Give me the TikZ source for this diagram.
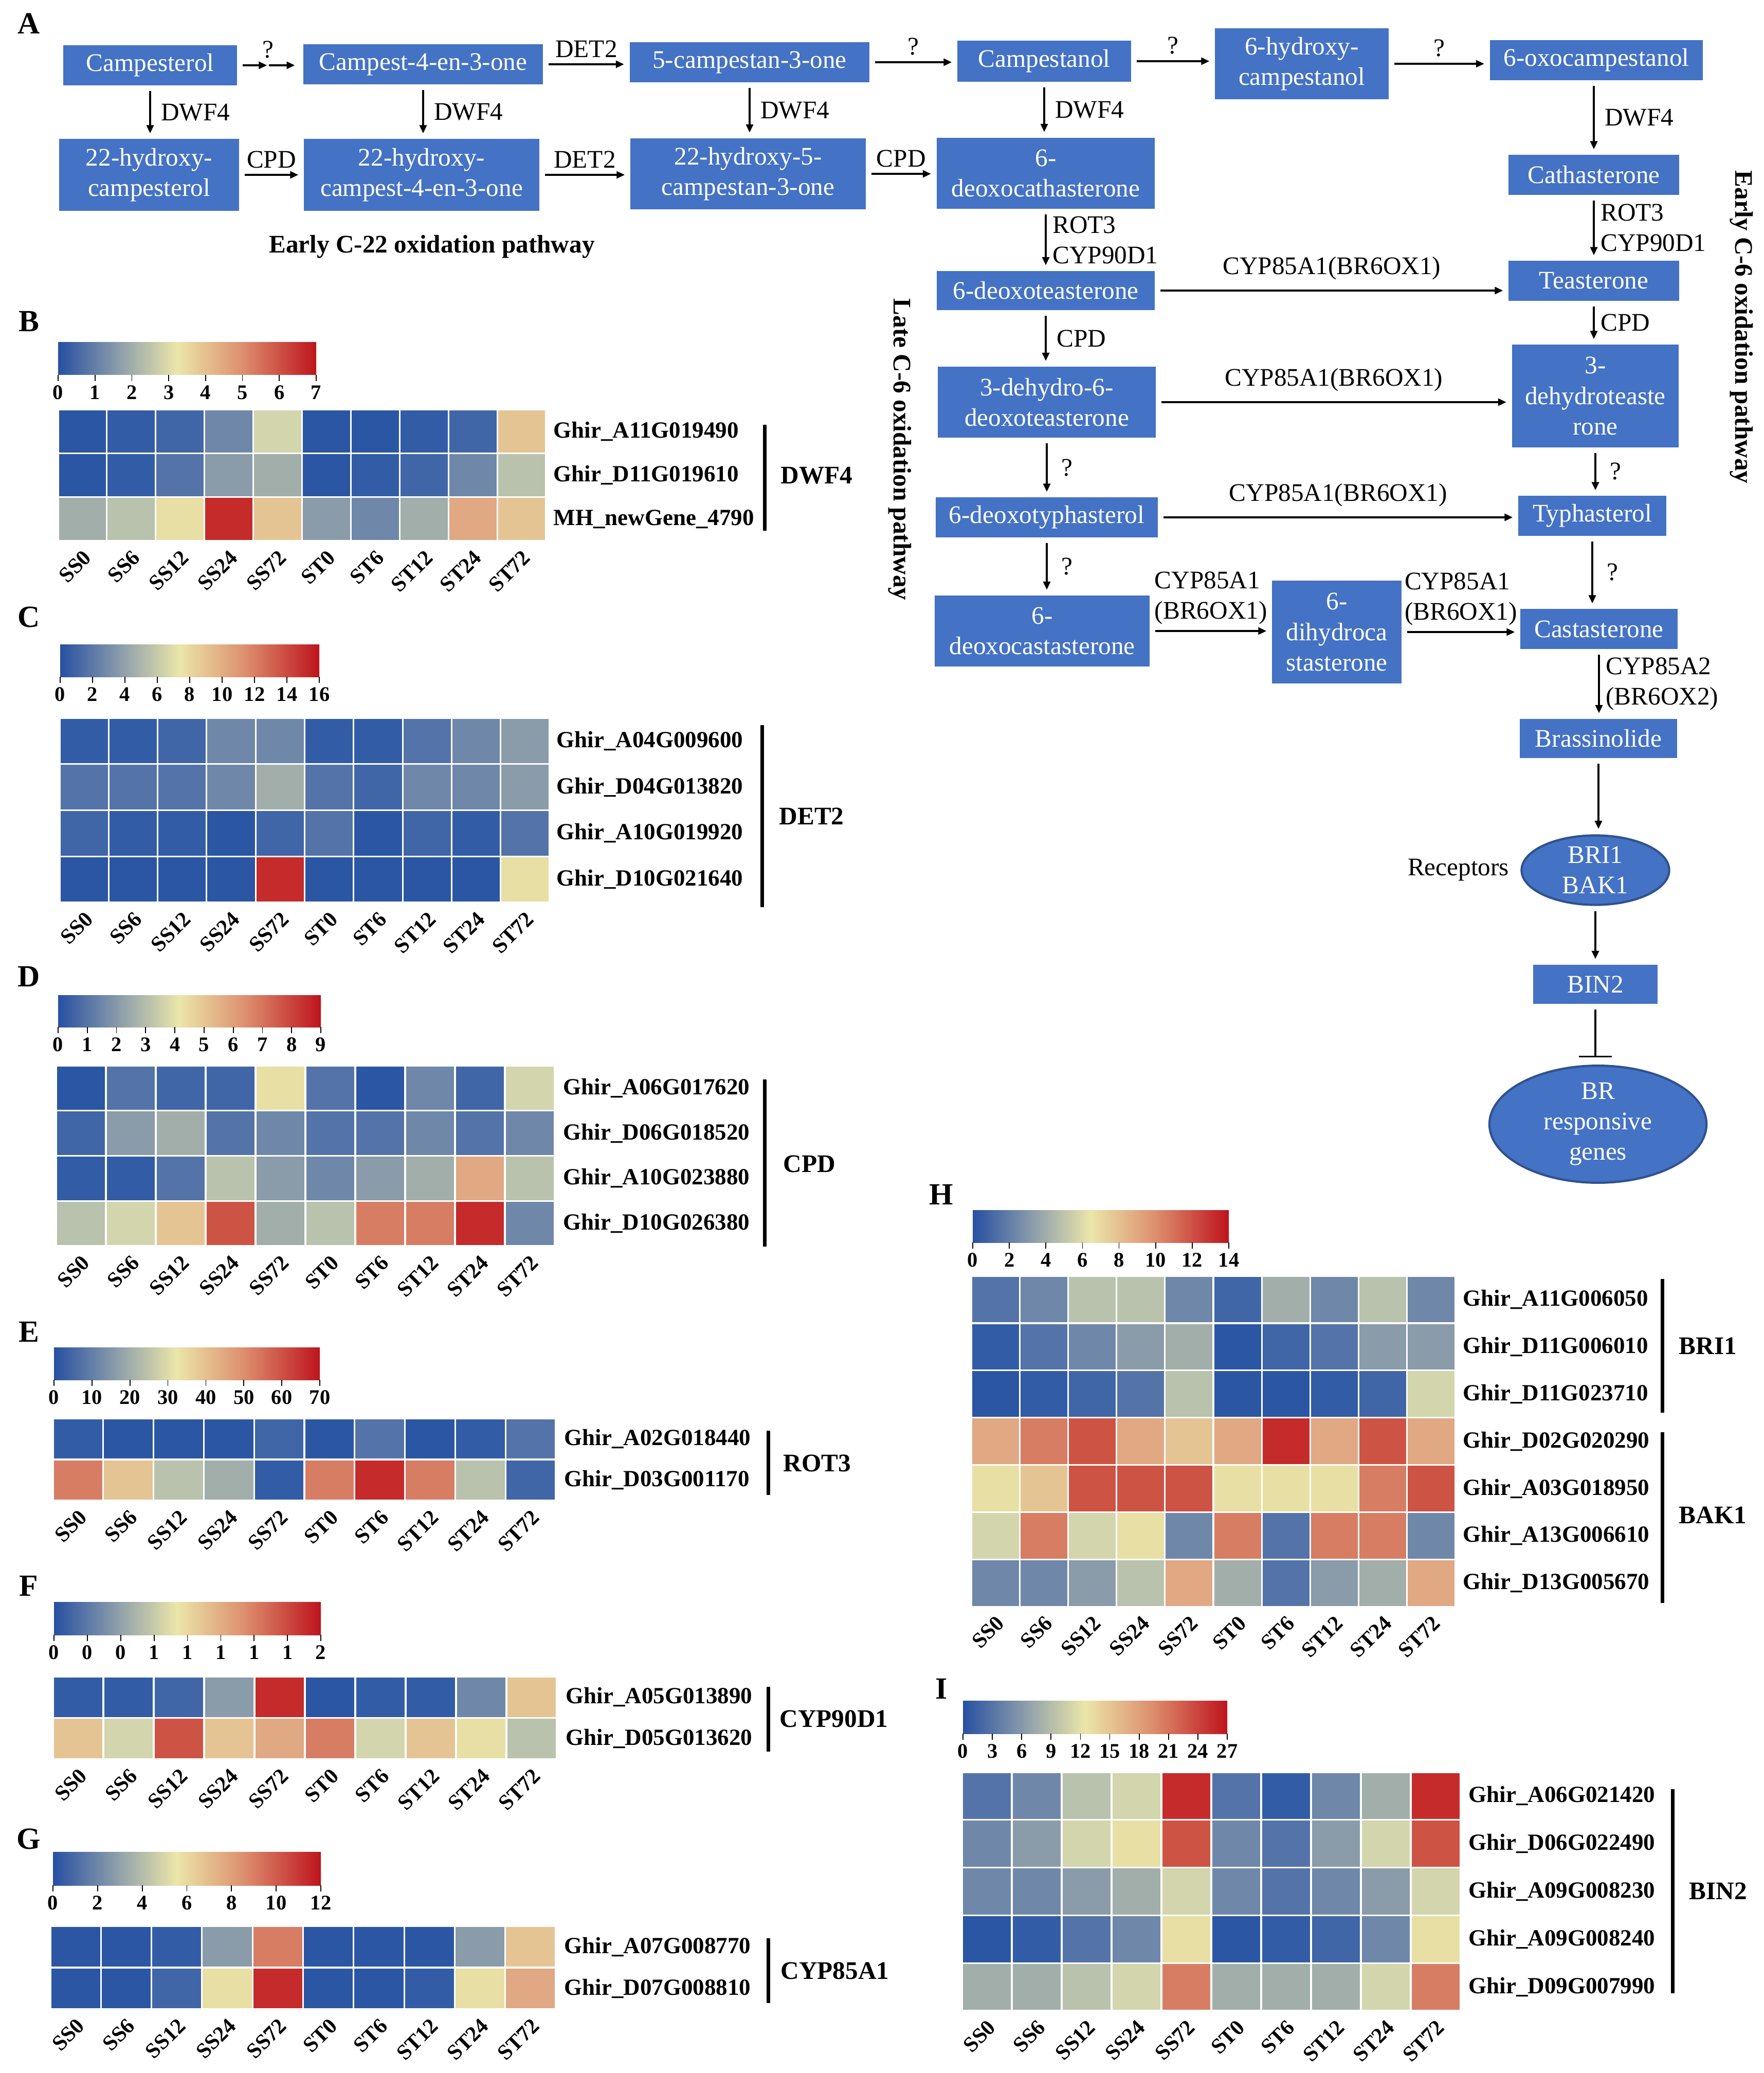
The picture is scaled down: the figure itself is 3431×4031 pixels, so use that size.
\documentclass[tikz,border=0pt]{standalone}
\usepackage{fontspec}
\setmainfont{Liberation Serif}
\usetikzlibrary{positioning, arrows.meta, shapes.geometric}

\definecolor{boxblue}{RGB}{68,114,196}
\definecolor{ovalline}{RGB}{47,82,143}
% heat map levels, low to high
\definecolor{hm0}{HTML}{2B56A3}
\definecolor{hm1}{HTML}{325DA6}
\definecolor{hm2}{HTML}{4166A7}
\definecolor{hm3}{HTML}{5473A8}
\definecolor{hm4}{HTML}{6F87A9}
\definecolor{hm5}{HTML}{8A9BAA}
\definecolor{hm6}{HTML}{A2AEAA}
\definecolor{hm7}{HTML}{B9C2AC}
\definecolor{hm8}{HTML}{D3D5AD}
\definecolor{hm9}{HTML}{E8DFA4}
\definecolor{hm10}{HTML}{E5C494}
\definecolor{hm11}{HTML}{E0A883}
\definecolor{hm12}{HTML}{D77D63}
\definecolor{hm13}{HTML}{CD5444}
\definecolor{hm14}{HTML}{C52B2B}
% colour key stops
\definecolor{cb0}{HTML}{2750A2}
\definecolor{cb1}{HTML}{8A9CAA}
\definecolor{cb2}{HTML}{EBE6A9}
\definecolor{cb3}{HTML}{DC8C6C}
\definecolor{cb4}{HTML}{BE141D}

\newcommand{\pwfont}{\fontsize{14}{16.8}\selectfont}
\newcommand{\pathfont}{\fontsize{14}{16.8}\selectfont\bfseries}
\newcommand{\genefont}{\fontsize{12.8}{15}\selectfont\bfseries}
\newcommand{\smpfont}{\fontsize{12}{14}\selectfont\bfseries}
\newcommand{\tickfont}{\fontsize{11.5}{13}\selectfont\bfseries}
\newcommand{\panelfont}{\fontsize{17}{20}\selectfont\bfseries}

% #1,#2 top left, #3 cell width, #4 cell height, #5 rows of levels
\newcommand{\heatgrid}[5]{%
  \foreach \rowcodes [count=\ri from 0] in {#5}{
    \foreach \code [count=\ci from 0] in \rowcodes{
      \path[fill=hm\code, draw=white, line width=0.9pt]
        ({#1+\ci*#3},{#2+\ri*#4}) rectangle ++(#3,#4);
    }
  }%
}
% #1 x, #2 top y, #3 row height, #4 prefix, #5 gene names
\newcommand{\genenames}[5]{%
  \foreach \gname [count=\gi from 0] in {#5}{
    \node[gene] (#4g\gi) at (#1,{#2+(\gi+0.5)*#3}) {\gname};
  }%
}
% #1 left x, #2 bottom y, #3 cell width, #4 prefix
\newcommand{\samplenames}[4]{%
  \foreach \sname [count=\sidx from 0] in {SS0,SS6,SS12,SS24,SS72,ST0,ST6,ST12,ST24,ST72}{
    \node[smp] (#4s\sidx) at ({#1+(\sidx+0.5)*#3+10},{#2+25}) {\sname};
  }%
}
% #1,#2 top left, #3 width, #4 height, #5 intervals, #6 tick labels, #7 prefix
\newcommand{\colorkey}[7]{%
  \shade[left color=cb0, right color=cb1] (#1,#2) rectangle ({#1+0.23*#3+1},{#2+#4});
  \shade[left color=cb1, right color=cb2] ({#1+0.23*#3},#2) rectangle ({#1+0.46*#3+1},{#2+#4});
  \shade[left color=cb2, right color=cb3] ({#1+0.46*#3},#2) rectangle ({#1+0.72*#3+1},{#2+#4});
  \shade[left color=cb3, right color=cb4] ({#1+0.72*#3},#2) rectangle ({#1+#3},{#2+#4});
  \foreach \ticklab [count=\ti from 0] in {#6}{
    \draw[line width=0.5pt] ({#1+\ti*#3/#5},{#2+#4}) -- ++(0,12);
    \node[tick] (#7t\ti) at ({#1+\ti*#3/#5},{#2+#4+34}) {\ticklab};
  }%
}

\begin{document}
\begin{tikzpicture}[x=0.01cm, y=-0.01cm,
  box/.style 2 args={rectangle, fill=boxblue, text=white, align=center, inner sep=0pt,
    font=\pwfont, minimum width=#1cm, minimum height=#2cm},
  oval/.style 2 args={ellipse, fill=boxblue, draw=ovalline, line width=1.2pt, text=white,
    align=center, inner sep=0pt, font=\pwfont, minimum width=#1cm, minimum height=#2cm},
  arr/.style={-{Triangle[length=4.5pt,width=4pt]}, line width=0.9pt, shorten <=3pt, shorten >=3pt},
  lab/.style={font=\pwfont, align=left},
  pathlab/.style={font=\pathfont},
  panel/.style={font=\panelfont},
  gene/.style={anchor=west, inner sep=0pt, font=\genefont},
  smp/.style={anchor=east, rotate=45, inner sep=0pt, font=\smpfont},
  tick/.style={inner sep=0pt, font=\tickfont},
  group/.style={anchor=west, inner sep=0pt, font=\pathfont},
  bracket/.style={line width=2pt}]
\useasboundingbox (0,0) rectangle (3431,4031);

% ---------- A: pathway ----------
\node[panel] (pA) at (56,46) {A};
\node[box={3.37}{0.78}] (campesterol) at (292,127) {Campesterol};
\node[box={4.66}{0.78}] (campestfour) at (823,125) {Campest-4-en-3-one};
\node[box={4.66}{0.77}] (campestanone) at (1458,121) {5-campestan-3-one};
\node[box={3.37}{0.79}] (campestanol) at (2031,119) {Campestanol};
\node[box={3.37}{1.38}] (hydroxycampestanol) at (2532,124) {6-hydroxy-\\campestanol};
\node[box={4.14}{0.77}] (oxocampestanol) at (3105,117) {6-oxocampestanol};
\node[box={3.49}{1.39}] (hydroxycampesterol) at (290,340) {22-hydroxy-\\campesterol};
\node[box={4.57}{1.39}] (hydroxycampestfour) at (820,340) {22-hydroxy-\\campest-4-en-3-one};
\node[box={4.57}{1.38}] (hydroxycampestanone) at (1455,338) {22-hydroxy-5-\\campestan-3-one};
\node[box={4.24}{1.38}] (deoxocathasterone) at (2034,337) {6-\\deoxocathasterone};
\node[box={3.31}{0.77}] (cathasterone) at (3100,340) {Cathasterone};
\node[box={4.24}{0.76}] (deoxoteasterone) at (2034,565) {6-deoxoteasterone};
\node[box={3.31}{0.77}] (teasterone) at (3100,546) {Teasterone};
\node[box={4.23}{1.38}] (dehydrodeoxo) at (2036,782) {3-dehydro-6-\\deoxoteasterone};
\node[box={3.24}{1.99}] (dehydroteasterone) at (3103,770) {3-\\dehydroteaste\\rone};
\node[box={4.32}{0.77}] (deoxotyphasterol) at (2036,1006) {6-deoxotyphasterol};
\node[box={2.87}{0.77}] (typhasterol) at (3097,1003) {Typhasterol};
\node[box={4.18}{1.38}] (deoxocastasterone) at (2027,1227) {6-\\deoxocastasterone};
\node[box={2.51}{2.00}] (dihydrocastasterone) at (2600,1229) {6-\\dihydroca\\stasterone};
\node[box={3.05}{0.77}] (castasterone) at (3110,1223) {Castasterone};
\node[box={3.06}{0.76}] (brassinolide) at (3109,1436) {Brassinolide};
\node[oval={2.87}{1.35}] (receptors) at (3103,1692) {BRI1\\BAK1};
\node[lab, left=0.1cm of receptors] (receptorlabel) {Receptors};
\node[box={2.42}{0.76}] (bintwo) at (3103,1914) {BIN2};
\node[oval={4.22}{2.23}] (brgenes) at (3108,2186) {BR\\responsive\\genes};

\node[pathlab] (c22path) at (840,480) {Early C-22 oxidation pathway};
\node[pathlab, rotate=-90] (latepath) at (1750,874) {Late C-6 oxidation pathway};
\node[pathlab, rotate=-90] (earlypath) at (3387,636) {Early C-6 oxidation pathway};

% top row
\coordinate (qmid) at (521,127);
\draw[arr, shorten >=0.5pt] (campesterol.east) -- node[lab, pos=1, above] {?} (qmid);
\draw[arr, shorten <=0.5pt, shorten >=4.5pt] (qmid) -- (qmid -| campestfour.west);
\draw[arr] (campestfour.east) -- node[lab, above] {DET2} (campestfour.east -| campestanone.west);
\draw[arr] (campestanone.east) -- node[lab, above] {?} (campestanone.east -| campestanol.west);
\draw[arr] (campestanol.east) -- node[lab, above] {?} (campestanol.east -| hydroxycampestanol.west);
\draw[arr] (hydroxycampestanol.east) -- node[lab, above] {?} (hydroxycampestanol.east -| oxocampestanol.west);
% DWF4 steps
\draw[arr] (campesterol.south) -- node[lab, right, xshift=0.08cm] {DWF4} (campesterol.south |- hydroxycampesterol.north);
\draw[arr] (campestfour.south) -- node[lab, right, xshift=0.08cm] {DWF4} (campestfour.south |- hydroxycampestfour.north);
\draw[arr] (campestanone.south) -- node[lab, right, xshift=0.08cm] {DWF4} (campestanone.south |- hydroxycampestanone.north);
\draw[arr] (campestanol.south) -- node[lab, right, xshift=0.08cm] {DWF4} (campestanol.south |- deoxocathasterone.north);
\draw[arr] (cathasterone.north |- oxocampestanol.south) -- node[lab, right, xshift=0.08cm] {DWF4} (cathasterone.north);
% second row
\draw[arr] (hydroxycampesterol.east) -- node[lab, above] {CPD} (hydroxycampesterol.east -| hydroxycampestfour.west);
\draw[arr] (hydroxycampestfour.east) -- node[lab, above] {DET2} (hydroxycampestfour.east -| hydroxycampestanone.west);
\draw[arr] (hydroxycampestanone.east) -- node[lab, above] {CPD} (hydroxycampestanone.east -| deoxocathasterone.west);
% late and early C-6
\draw[arr] (deoxocathasterone.south) -- node[lab, right] {ROT3\\CYP90D1} (deoxocathasterone.south |- deoxoteasterone.north);
\draw[arr] (cathasterone.south) -- node[lab, right] {ROT3\\CYP90D1} (cathasterone.south |- teasterone.north);
\draw[arr] (deoxoteasterone.east) -- node[lab, above, yshift=0.08cm] {CYP85A1(BR6OX1)} (deoxoteasterone.east -| teasterone.west);
\draw[arr] (deoxoteasterone.south) -- node[lab, right, xshift=0.08cm] {CPD} (deoxoteasterone.south |- dehydrodeoxo.north);
\draw[arr] (teasterone.south) -- node[lab, right] {CPD} (teasterone.south |- dehydroteasterone.north);
\draw[arr] (dehydrodeoxo.east) -- node[lab, above, yshift=0.08cm] {CYP85A1(BR6OX1)} (dehydrodeoxo.east -| dehydroteasterone.west);
\draw[arr] (dehydrodeoxo.south) -- node[lab, right, xshift=0.15cm] {?} (dehydrodeoxo.south |- deoxotyphasterol.north);
\draw[arr] (dehydroteasterone.south) -- node[lab, right, xshift=0.15cm] {?} (dehydroteasterone.south |- typhasterol.north);
\draw[arr] (deoxotyphasterol.east) -- node[lab, above, yshift=0.08cm] {CYP85A1(BR6OX1)} (deoxotyphasterol.east -| typhasterol.west);
\draw[arr] (deoxotyphasterol.south) -- node[lab, right, xshift=0.15cm] {?} (deoxotyphasterol.south |- deoxocastasterone.north);
\draw[arr] (typhasterol.south) -- node[lab, right, xshift=0.15cm] {?} (typhasterol.south |- castasterone.north);
\draw[arr] (deoxocastasterone.east) -- node[lab, above] {CYP85A1\\(BR6OX1)} (deoxocastasterone.east -| dihydrocastasterone.west);
\draw[arr] (dihydrocastasterone.east) -- node[lab, above] {CYP85A1\\(BR6OX1)} (dihydrocastasterone.east -| castasterone.west);
\draw[arr] (castasterone.south) -- node[lab, right] {CYP85A2\\(BR6OX2)} (castasterone.south |- brassinolide.north);
% signalling
\draw[arr] (brassinolide.south) -- (brassinolide.south |- receptors.north);
\draw[arr] (receptors.south) -- (receptors.south |- bintwo.north);
\draw[-{Bar[width=18pt]}, line width=0.9pt, shorten <=3pt, shorten >=4pt] (bintwo.south) -- (bintwo.south |- brgenes.north);

% ---------- B: DWF4 ----------
\node[panel] (pB) at (56,625) {B};
\colorkey{113}{666}{502}{63}{7}{0,1,...,7}{B}
\heatgrid{113}{796}{94.9}{85.3}{{0,1,2,4,8,0,0,1,2,10},{0,1,3,5,6,0,1,2,4,7},{6,7,9,14,10,5,4,6,11,10}}
\genenames{1076}{796}{85.3}{B}{Ghir\_A11G019490,Ghir\_D11G019610,MH\_newGene\_4790}
\samplenames{113}{1052}{94.9}{B}
\draw[bracket] (1487,826) -- (1487,1032);
\node[group] (gB) at (1518,925) {DWF4};

% ---------- C: DET2 ----------
\node[panel] (pC) at (56,1200) {C};
\colorkey{117}{1253}{504}{63}{8}{0,2,...,16}{C}
\heatgrid{116}{1396}{95.3}{89.75}{{1,1,2,4,4,1,1,3,4,5},{3,3,3,4,6,3,2,4,4,5},{2,1,1,0,2,3,0,2,1,3},{0,0,0,0,14,0,0,0,0,9}}
\genenames{1082}{1396}{89.75}{C}{Ghir\_A04G009600,Ghir\_D04G013820,Ghir\_A10G019920,Ghir\_D10G021640}
\samplenames{116}{1755}{95.3}{C}
\draw[bracket] (1482,1410) -- (1482,1764);
\node[group] (gC) at (1515,1587) {DET2};

% ---------- D: CPD ----------
\node[panel] (pD) at (56,1899) {D};
\colorkey{113}{1935}{511}{62}{9}{0,1,...,9}{D}
\heatgrid{109}{2072}{97}{87.75}{{0,3,2,2,9,3,0,4,2,8},{2,5,6,3,4,3,3,4,3,4},{1,1,3,7,5,4,5,6,11,7},{7,8,10,13,6,7,12,12,14,4}}
\genenames{1095}{2072}{87.75}{D}{Ghir\_A06G017620,Ghir\_D06G018520,Ghir\_A10G023880,Ghir\_D10G026380}
\samplenames{109}{2423}{97}{D}
\draw[bracket] (1487,2099) -- (1487,2424);
\node[group] (gD) at (1523,2263) {CPD};

% ---------- E: ROT3 ----------
\node[panel] (pE) at (56,2590) {E};
\colorkey{105}{2620}{517}{63}{7}{0,10,...,70}{E}
\heatgrid{103}{2758}{97.8}{80}{{1,0,0,0,2,0,3,0,1,3},{12,10,7,6,1,12,14,12,7,2}}
\genenames{1097}{2758}{80}{E}{Ghir\_A02G018440,Ghir\_D03G001170}
\samplenames{103}{2918}{97.8}{E}
\draw[bracket] (1494,2782) -- (1494,2907);
\node[group] (gE) at (1523,2845) {ROT3};

% ---------- F: CYP90D1 ----------
\node[panel] (pF) at (56,3084) {F};
\colorkey{105}{3115}{519}{64}{8}{0,0,0,1,1,1,1,1,2}{F}
\heatgrid{103}{3260}{98}{80.5}{{1,1,2,5,14,0,1,1,4,10},{10,8,13,10,11,12,8,10,9,7}}
\genenames{1100}{3260}{80.5}{F}{Ghir\_A05G013890,Ghir\_D05G013620}
\samplenames{103}{3421}{98}{F}
\draw[bracket] (1494,3280) -- (1494,3406);
\node[group] (gF) at (1516,3342) {CYP90D1};

% ---------- G: CYP85A1 ----------
\node[panel] (pG) at (56,3576) {G};
\colorkey{103}{3601}{521}{65}{6}{0,2,...,12}{G}
\heatgrid{98}{3745}{98.3}{81}{{0,0,1,5,12,0,0,0,5,10},{0,0,2,9,14,0,0,1,9,11}}
\genenames{1097}{3745}{81}{G}{Ghir\_A07G008770,Ghir\_D07G008810}
\samplenames{98}{3907}{98.3}{G}
\draw[bracket] (1494,3769) -- (1494,3895);
\node[group] (gG) at (1518,3832) {CYP85A1};

% ---------- H: BRI1 and BAK1 ----------
\node[panel] (pH) at (1831,2323) {H};
\colorkey{1892}{2353}{498}{63}{7}{0,2,...,14}{H}
\heatgrid{1889}{2481}{94.2}{91.9}{{3,4,7,7,4,2,6,4,7,4},{1,3,4,5,6,0,2,3,5,5},{0,1,2,3,7,0,0,1,2,8},{11,12,13,11,10,11,14,11,13,11},{9,10,13,13,13,9,9,9,12,13},{8,12,8,9,4,12,3,12,12,4},{4,4,5,7,11,6,3,5,6,11}}
\genenames{2845}{2481}{91.9}{H}{Ghir\_A11G006050,Ghir\_D11G006010,Ghir\_D11G023710,Ghir\_D02G020290,Ghir\_A03G018950,Ghir\_A13G006610,Ghir\_D13G005670}
\samplenames{1889}{3124}{94.2}{H}
\draw[bracket] (3233,2487) -- (3233,2747);
\draw[bracket] (3233,2785) -- (3233,3117);
\node[group] (gH1) at (3265,2617) {BRI1};
\node[group] (gH2) at (3265,2946) {BAK1};

% ---------- I: BIN2 ----------
\node[panel] (pI) at (1831,3284) {I};
\colorkey{1873}{3307}{514}{64}{9}{0,3,...,27}{I}
\heatgrid{1871}{3446}{97}{92.8}{{3,4,7,8,14,3,1,4,6,14},{4,5,8,9,13,4,3,5,8,13},{4,4,5,6,8,4,3,4,5,8},{0,1,3,4,9,0,1,2,4,9},{6,6,7,8,12,6,6,6,8,12}}
\genenames{2856}{3446}{92.8}{I}{Ghir\_A06G021420,Ghir\_D06G022490,Ghir\_A09G008230,Ghir\_A09G008240,Ghir\_D09G007990}
\samplenames{1871}{3910}{97}{I}
\draw[bracket] (3253,3479) -- (3253,3876);
\node[group] (gI) at (3285,3677) {BIN2};
\end{tikzpicture}
\end{document}
